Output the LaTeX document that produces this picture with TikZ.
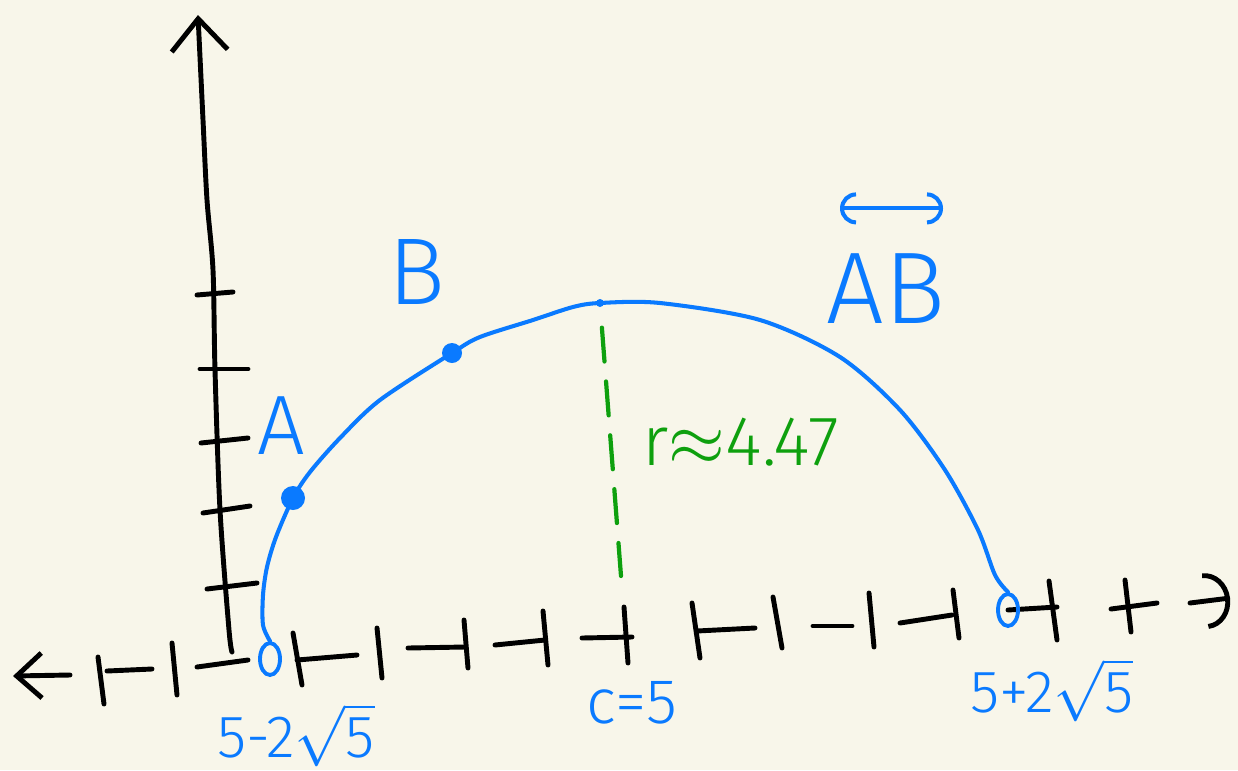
\documentclass[tikz,border=0pt]{standalone}
\usepackage{fontspec}
\setmainfont{Fira Sans Light}
\usetikzlibrary{arrows.meta,positioning,calc,shapes.geometric}
\definecolor{azul}{RGB}{10,122,255}
\definecolor{verde}{RGB}{14,160,14}
\definecolor{fondo}{RGB}{248,246,234}
\tikzset{
  eje/.style={line width=1.4pt, black, line cap=round, line join=round},
  arco/.style={line width=1.15pt, azul, line cap=round, line join=round},
  radio/.style={line width=1.2pt, verde, line cap=round, dash pattern=on 3.4mm off 2mm, dash phase=3.4mm},
  punto/.style={circle, fill=azul, inner sep=0pt, minimum size=2.4mm},
  hueco/.style={ellipse, draw=azul, line width=1.1pt, inner sep=0pt, minimum width=2mm, minimum height=3.2mm},
  etq/.style={text=azul, inner sep=0pt, font=\fontsize{18}{20}\selectfont},
  flAB/.style={line width=1.15pt, azul, {Arc Barb[length=1.6mm,width=3.2mm]}-{Arc Barb[length=1.6mm,width=3.2mm]}},
}

\begin{document}
\begin{tikzpicture}[x=0.1mm, y=-0.1mm]
  \fill[fondo] (0,0) rectangle (1238,770);
  \useasboundingbox (0,0) rectangle (1238,770);
  % eje vertical
  \draw[eje, -{Straight Barb[length=3.2mm,width=5.6mm]}] plot[smooth] coordinates {(232,652) (229,630) (220,510) (215,370) (213,270) (207,200) (203,120) (198,15)};
  \foreach \xa/\ya/\xb/\yb in {197/295/233/292, 200/369/248/369, 201/443/248/438, 203/513/250/506, 207/589/257/583}
    \draw[eje] (\xa,\ya) -- (\xb,\yb);
  % eje horizontal (a trozos)
  \draw[eje, {Straight Barb[length=2.5mm,width=4.5mm]}-] (13,676) -- (70,675);
  \draw[eje, -{Arc Barb[length=2.5mm,width=5.6mm]}] (1190,603) -- (1230,598);
  \foreach \xa/\ya/\xb/\yb in {107/671/152/669, 197/667/248/660, 297/660/357/655, 408/648/465/647, 495/645/545/640, 582/638/632/637, 697/631/755/628, 813/626/852/626, 900/623/952/615, 1008/610/1057/607, 1111/609/1157/603}
    \draw[eje] (\xa,\ya) -- (\xb,\yb);
  \foreach \xa/\ya/\xb/\yb in {98/657/104/704, 172/643/177/695, 293/633/302/685, 377/628/382/678, 464/620/468/668, 543/611/548/665, 624/607/628/663, 692/603/700/658, 773/597/782/648, 869/593/874/647, 953/590/959/638, 1049/581/1057/640, 1125/580/1131/632}
    \draw[eje] (\xa,\ya) -- (\xb,\yb);

  % semicircunferencia
  \node[hueco] (izq) at (270,659) {};
  \node[hueco] (der) at (1008,610) {};
  \node[punto] (A) at (293,498) {};
  \node[punto, minimum size=2mm] (B) at (452,353) {};
  \node[circle, fill=azul, inner sep=0pt, minimum size=0.8mm] (cima) at (600,303) {};
  \draw[arco] plot[smooth, tension=0.5] coordinates {(izq.north) (263,625) (263,595) (267,567) (276,537) (A.center) (310,472) (340,438) (380,400) (B.center) (480,337) (533,320) (573,307) (cima.center) (660,303) (760,320) (840,357) (900,410) (945,470) (978,530) (995,575) (der.north)};

  % radio
  \coordinate (pie) at (621,576);
  \draw[radio] (cima) -- (pie);

  % etiquetas
  \node[etq, font=\fontsize{24}{26}\selectfont] (etqA) at (281,426) {A};
  \node[etq, font=\fontsize{27}{29}\selectfont] (etqB) at (417,272) {B};
  \node[etq, font=\fontsize{29}{31}\selectfont] (etqAB) at (886,289) {AB};
  \draw[flAB] ([shift={(-46,-45)}]etqAB.north) -- ([shift={(57,-45)}]etqAB.north);
  \node[etq, text=verde, font=\fontsize{20}{22}\selectfont] (etqr) at (741,442) {r$\approx$4.47};
  \node[etq, font=\fontsize{17}{19}\selectfont] (etqizq) at (296,735) {5-2$\sqrt{\hbox{5}}$};
  \node[etq, font=\fontsize{18}{20}\selectfont] (etqc) at (632,703) {c=5};
  \node[etq, font=\fontsize{17}{19}\selectfont] (etqder) at (1052,690) {5+2$\sqrt{\hbox{5}}$};
\end{tikzpicture}
\end{document}
